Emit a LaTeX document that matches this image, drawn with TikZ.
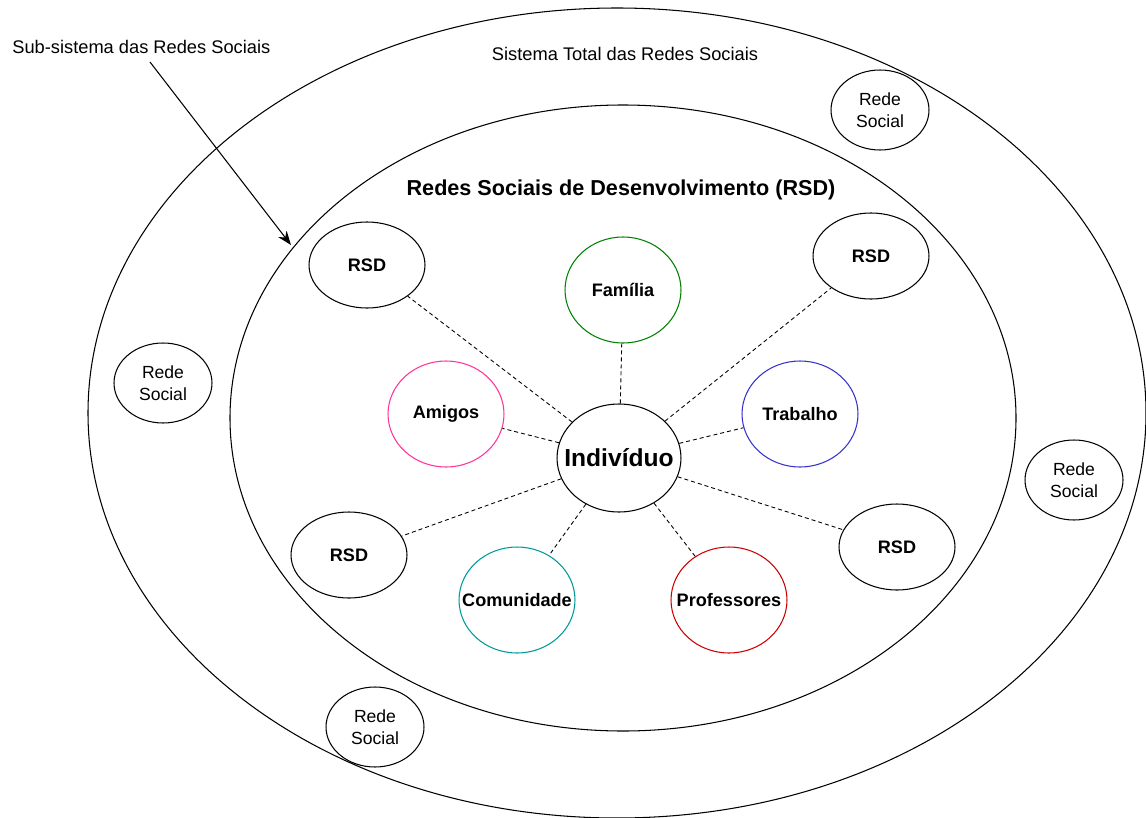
\documentclass[tikz,border=0pt]{standalone}
\usepackage{fontspec}
\setmainfont{Liberation Sans}
\usetikzlibrary{shapes.geometric,arrows.meta}

\definecolor{corFamilia}{RGB}{0,128,0}
\definecolor{corAmigos}{RGB}{255,51,153}
\definecolor{corTrabalho}{RGB}{51,51,204}
\definecolor{corComunidade}{RGB}{0,153,153}
\definecolor{corProfessores}{RGB}{204,0,0}

\tikzset{
  rede/.style={draw,ellipse,line width=0.6pt,minimum width=1.96cm,minimum height=1.6cm,
    label={[align=center,font=\fontsize{10}{12.5}\selectfont]center:#1}},
  rsd/.style={draw,ellipse,line width=0.6pt,minimum width=2.32cm,minimum height=1.72cm,
    label={[font=\fontsize{10.3}{12}\selectfont\bfseries]center:#1}},
  grupo/.style={rsd=#1,minimum height=2.12cm},
  ligacao/.style={line width=0.5pt,dash pattern=on 2.3pt off 1.7pt},
  texto/.style={inner sep=0pt,anchor=base,font=\fontsize{10.4}{12}\selectfont}
}

\begin{document}
\begin{tikzpicture}[x=0.02cm,y=-0.02cm]

% Fix the size of the picture
\useasboundingbox (0,0) rectangle (1146,818);

% Draw the two systems
\draw[line width=0.6pt] (617,413) ellipse [x radius=529, y radius=405];
\draw[line width=0.6pt] (623,418) ellipse [x radius=393, y radius=313];

% Titles of the systems
\node[texto,anchor=base west] (subsis) at (12,53) {Sub-sistema das Redes Sociais};
\node[texto] (sistema) at (625,60) {Sistema Total das Redes Sociais};
\node[texto,font=\fontsize{12.3}{14}\selectfont\bfseries] (titulo) at (621,195)
{Redes Sociais de Desenvolvimento (RSD)};

% Arrow to the sub-system
\coordinate (setaIni) at (150,62);
\coordinate (setaFim) at (291,245);
\draw[line width=0.6pt,-{Stealth[length=8pt,width=6pt]}] (setaIni) -- (setaFim);

% Other social networks
\node[rede={Rede\\Social}] (redeNE) at (880,110) {};
\node[rede={Rede\\Social}] (redeO) at (163,383) {};
\node[rede={Rede\\Social}] (redeE) at (1074,480) {};
\node[rede={Rede\\Social}] (redeS) at (375,727) {};

% The individual
\node[draw,ellipse,line width=0.6pt,minimum width=2.48cm,minimum height=2.16cm,
  label={[font=\fontsize{14}{16}\selectfont\bfseries]center:Indivíduo}] (indiv) at (619,458) {};

% Development networks
\node[rsd=RSD] (rsdNO) at (367,265) {};
\node[rsd=RSD] (rsdNE) at (871,256) {};
\node[rsd=RSD] (rsdSO) at (349,555) {};
\node[rsd=RSD] (rsdE) at (897,547) {};
\node[grupo=Família,draw=corFamilia] (familia) at (623,290) {};
\node[grupo=Amigos,draw=corAmigos] (amigos) at (446,414) {};
\node[grupo=Trabalho,draw=corTrabalho] (trabalho) at (800,414) {};
\node[grupo=Comunidade,draw=corComunidade] (comunidade) at (517,600) {};
\node[grupo=Professores,draw=corProfessores] (professores) at (729,600) {};

% Links to the individual
\foreach \n in {rsdNO,familia,rsdNE,amigos,trabalho,rsdSO,comunidade,professores,rsdE}
  \draw[ligacao] (indiv) -- (\n);

\end{tikzpicture}
\end{document}
